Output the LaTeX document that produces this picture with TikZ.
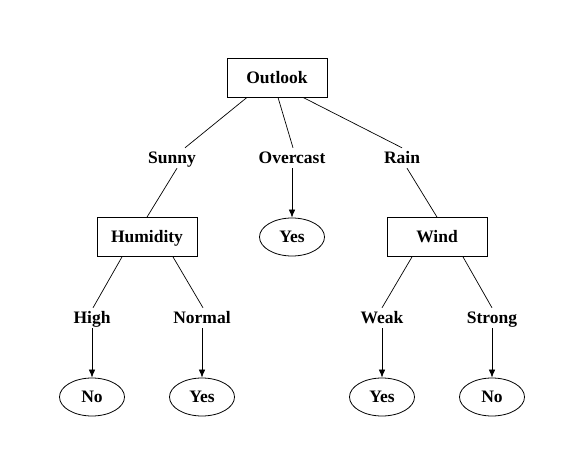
\documentclass[tikz,border=0pt]{standalone}
\usepackage{fontspec}
\setmainfont{Liberation Serif}
\usetikzlibrary{shapes.geometric, arrows.meta}

\begin{document}
\begin{tikzpicture}[
    x=1pt, y=-1pt,
    every node/.style={font=\fontsize{17.5}{20}\bfseries\selectfont, text height=11.6pt, text depth=0pt},
    attr/.style={draw, rectangle, minimum width=100pt, minimum height=39pt, inner sep=0pt, line width=.8pt},
    leaf/.style={draw, ellipse, minimum width=65pt, minimum height=38pt, inner sep=0pt, line width=.8pt},
    branch/.style={inner xsep=3pt, inner ysep=0pt, minimum height=20pt},
    edge/.style={line width=.7pt},
    arrow/.style={-{Latex[length=8pt, width=6.5pt]}, line width=.7pt}
        ]

    \path [use as bounding box] (0,0) rectangle (572,460);

    % attribute tests
    \node [attr] (outlook)  at (277,77.5) {Outlook};
    \node [attr] (humidity) at (147,237)  {Humidity};
    \node [attr] (wind)     at (437,237)  {Wind};

    % branch values
    \node [branch] (sunny)    at (172,158) {Sunny};
    \node [branch] (overcast) at (292,158) {Overcast};
    \node [branch] (rain)     at (402,158) {Rain};

    \node [branch] (high)   at (92,318)  {High};
    \node [branch] (normal) at (202,318) {Normal};
    \node [branch] (weak)   at (382,318) {Weak};
    \node [branch] (strong) at (492,318) {Strong};

    % leaves
    \node [leaf] (yesO) at (292,237) {Yes};
    \node [leaf] (noH)  at (92,397)  {No};
    \node [leaf] (yesN) at (202,397) {Yes};
    \node [leaf] (yesW) at (382,397) {Yes};
    \node [leaf] (noS)  at (492,397) {No};

    \draw [edge] ([xshift=-30pt]outlook.south) -- ([xshift=13pt]sunny.north);
    \draw [edge] ([xshift=1pt]outlook.south) -- ([xshift=1pt]overcast.north);
    \draw [edge] ([xshift=26pt]outlook.south) -- (rain.north);
    \draw [edge] ([xshift=5pt]sunny.south) -- (humidity.north);
    \draw [edge] ([xshift=5pt]rain.south) -- (wind.north);
    \draw [arrow] (overcast.south) -- (yesO.north);

    \draw [edge] ([xshift=-25pt]humidity.south) -- ([xshift=1pt]high.north);
    \draw [edge] ([xshift=26pt]humidity.south) -- ([xshift=1pt]normal.north);
    \draw [edge] ([xshift=-25pt]wind.south) -- (weak.north);
    \draw [edge] ([xshift=26pt]wind.south) -- (strong.north);

    \draw [arrow] (high.south) -- (noH.north);
    \draw [arrow] (normal.south) -- (yesN.north);
    \draw [arrow] (weak.south) -- (yesW.north);
    \draw [arrow] (strong.south) -- (noS.north);

\end{tikzpicture}
\end{document}
